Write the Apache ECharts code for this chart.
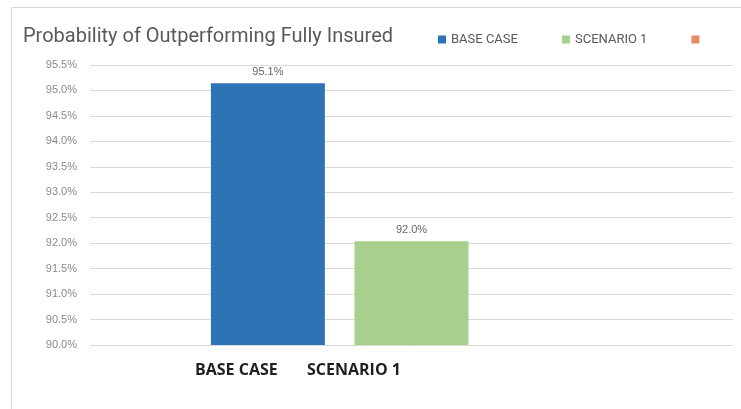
<!DOCTYPE html>
<html>
<head>
<meta charset="utf-8">
<script src="https://cdn.jsdelivr.net/npm/echarts@6/dist/echarts.min.js"></script>
<style>
  html, body { margin: 0; padding: 0; background: #fff; }
  #chart { width: 741px; height: 409px; }
</style>
</head>
<body>
<div id="chart"></div>
<script>
// values (percent)
const seriesNames = ['BASE CASE', 'SCENARIO 1', ' ']
const seriesValues = [95.14, 92.04, null]
const seriesColors = ['#2E73B6', '#A8D08D', '#E98B6B']
const caseLabels = ['BASE CASE', 'SCENARIO 1']
const yMin = 90
const yMax = 95.5
const yStep = 0.5

const chart = echarts.init(document.getElementById('chart'), null, { renderer: 'canvas' })

const series = seriesNames.map((name, i) => ({
  name: name,
  type: 'bar',
  data: [seriesValues[i]],
  barWidth: 114,
  barGap: '26%',
  itemStyle: { color: seriesColors[i] },
  label: {
    show: seriesValues[i] !== null,
    position: 'top',
    distance: 6,
    color: '#666',
    fontFamily: 'Liberation Sans',
    fontSize: 11,
    formatter: p => p.value.toFixed(1) + '%',
  },
}))

chart.setOption({
  backgroundColor: '#fff',
  animation: false,
  title: {
    text: 'Probability of Outperforming Fully Insured',
    left: 18,
    top: 22,
    textStyle: {
      color: '#595959',
      fontFamily: 'Roboto',
      fontWeight: 'normal',
      fontSize: 20,
    },
  },
  legend: {
    data: seriesNames,
    left: 433,
    top: 28,
    icon: 'rect',
    itemWidth: 8,
    itemHeight: 8,
    itemGap: 44,
    textStyle: {
      color: '#595959',
      fontFamily: 'Roboto',
      fontSize: 13,
    },
  },
  grid: { left: 90, right: 8, top: 65, bottom: 64 },
  xAxis: {
    type: 'category',
    data: [''],
    axisLine: { show: false },
    axisTick: { show: false },
    axisLabel: { show: false },
  },
  yAxis: {
    type: 'value',
    min: yMin,
    max: yMax,
    interval: yStep,
    axisLine: { show: false },
    axisTick: { show: false },
    axisLabel: {
      margin: 13,
      color: '#8a8a8a',
      fontFamily: 'Liberation Sans',
      fontSize: 11,
      formatter: v => v.toFixed(1) + '%',
    },
    splitLine: { lineStyle: { color: '#d9d9d9', width: 1 } },
  },
  graphic: [
    {
      type: 'rect',
      shape: { x: 11.5, y: 7.5, width: 800, height: 500 },
      style: { fill: 'none', stroke: '#d9d9d9', lineWidth: 1 },
      silent: true,
    },
    {
      type: 'text',
      left: 195,
      top: 362,
      style: { text: caseLabels[0], fill: '#1f1f1f', font: 'bold 16px "Open Sans"' },
    },
    {
      type: 'text',
      left: 307,
      top: 362,
      style: { text: caseLabels[1], fill: '#1f1f1f', font: 'bold 16px "Open Sans"' },
    },
  ],
  series: series,
})
</script>
</body>
</html>
